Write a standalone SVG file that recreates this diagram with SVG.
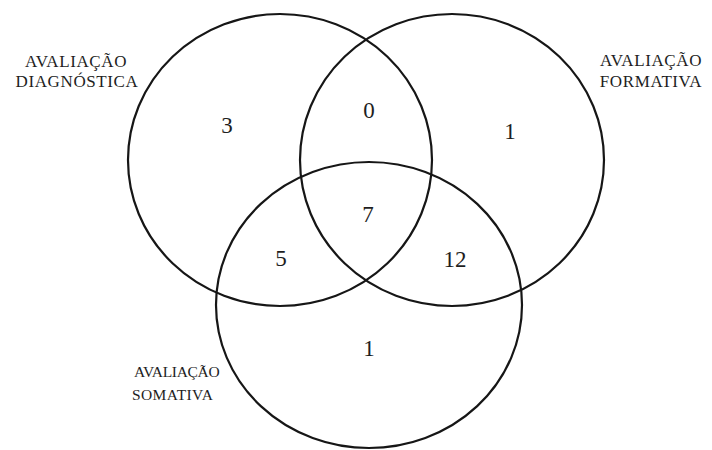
<svg xmlns="http://www.w3.org/2000/svg" width="712" height="450" viewBox="0 0 712 450">
  <style>
    .set { fill: none; stroke: #161616; stroke-width: 2.2; }
    .lbl { font-family: "Liberation Serif", "Times New Roman", serif; font-size: 17px; fill: #1e1e1e; letter-spacing: 0.6px; }
    .lbl-s { font-family: "Liberation Serif", "Times New Roman", serif; font-size: 15.5px; fill: #1e1e1e; letter-spacing: 0.4px; }
    .num { font-family: "Liberation Serif", "Times New Roman", serif; font-size: 23px; fill: #1e1e1e; text-anchor: middle; }
  </style>
  <rect width="712" height="450" fill="#ffffff"/>
  <g id="diagnostica">
    <ellipse class="set" cx="280" cy="160" rx="152" ry="146"/>
    <text class="lbl" x="76" y="67" text-anchor="middle">AVALIAÇÃO</text>
    <text class="lbl" x="77" y="87" text-anchor="middle">DIAGNÓSTICA</text>
  </g>
  <g id="formativa">
    <ellipse class="set" cx="452" cy="160" rx="152" ry="146"/>
    <text class="lbl" x="651" y="66" text-anchor="middle">AVALIAÇÃO</text>
    <text class="lbl" x="651" y="87" text-anchor="middle">FORMATIVA</text>
  </g>
  <g id="somativa">
    <ellipse class="set" cx="369" cy="305" rx="153" ry="143"/>
    <text class="lbl-s" x="134" y="377" textLength="86" lengthAdjust="spacing">AVALIAÇÃO</text>
    <text class="lbl-s" x="132" y="400">SOMATIVA</text>
  </g>
  <g id="counts">
    <text class="num" x="227" y="133">3</text>
    <text class="num" x="369" y="118">0</text>
    <text class="num" x="510" y="139">1</text>
    <text class="num" x="368" y="222">7</text>
    <text class="num" x="281" y="266">5</text>
    <text class="num" x="455" y="267">12</text>
    <text class="num" x="369" y="356">1</text>
  </g>
</svg>
